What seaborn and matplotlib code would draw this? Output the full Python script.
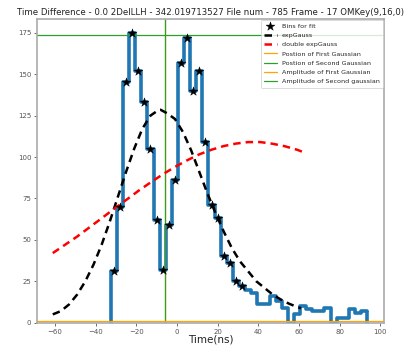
import numpy as np
import pandas as pd
import matplotlib
matplotlib.use("Agg")
import matplotlib.pyplot as plt
import seaborn as sns

# ---------------- data ----------------
title = "Time Difference - 0.0 2DelLLH - 342.019713527 File num - 785 Frame - 17 OMKey(9,16,0)"
xlabel = "Time(ns)"

bin_start = -32.5
bin_width = 3.0
counts = [31, 70, 145, 175, 152, 133, 105, 62, 32, 59, 86, 157, 172, 140, 152, 109,
          71, 63, 40, 36, 25, 22, 20, 18, 11, 11, 16, 13, 9, 0, 5, 10, 8, 7, 7, 9,
          0, 3, 3, 8, 6, 7]
n_fit_bins = 22

expgauss_x = [-61, -57, -53, -49, -45, -41, -37, -33, -29, -25, -21, -17, -13, -9, -8,
              -5, -1, 3, 7, 11, 15, 19, 23, 27, 31, 35, 39, 43, 47, 51, 55, 59, 61]
expgauss_y = [5, 7, 11, 17, 25, 35, 47, 61, 76, 91, 105, 117, 125, 128.4, 128.5,
              126.5, 123, 115, 104, 91, 78, 66, 55, 45, 37, 31, 25, 21, 17, 14, 11.5, 9.5, 8.7]

dexp_x = [-61, -55, -49, -43, -37, -31, -25, -19, -13, -7, -1, 5, 11, 17, 23, 29, 35,
          41, 47, 53, 59, 62]
dexp_y = [42, 47, 52, 57.5, 63, 68.6, 74, 79.5, 84.6, 89.5, 94, 98, 101.6, 104.4,
          106.6, 108.1, 109, 109, 108, 106.5, 104.4, 103]

pos_first = -6.0
pos_second = -6.0
amp_first = 1.0
amp_second = 173.5

xticks = [-60, -40, -20, 0, 20, 40, 60, 80, 100]
yticks = [0, 25, 50, 75, 100, 125, 150, 175]

# ---------------- derived tables ----------------
edges = [bin_start + bin_width * i for i in range(len(counts) + 1)]
centers = [(a + b) / 2 for a, b in zip(edges[:-1], edges[1:])]
hist_df = pd.DataFrame({"t": centers, "n": counts})
fit_df = hist_df.iloc[:n_fit_bins]
eg_df = pd.DataFrame({"t": expgauss_x, "v": expgauss_y})
deg_df = pd.DataFrame({"t": dexp_x, "v": dexp_y})

# ---------------- plot ----------------
sns.set_style("ticks")
plt.rcParams['font.family'] = ['DejaVu Sans']

fig = plt.figure(figsize=(4.05, 3.47), dpi=100)
ax = fig.add_axes([37 / 405, 1 - 323 / 347, (384 - 37) / 405, (323 - 19) / 347])

sns.histplot(data=hist_df, x="t", weights="n", bins=edges, element="step", fill=False,
             color="#1f77b4", linewidth=2.6, ax=ax, zorder=2)
# vertical end edges of the step outline
ax.vlines([edges[0], edges[-1]], 0, [counts[0], counts[-1]], color="#1f77b4",
          linewidth=2.6, zorder=2)

sns.scatterplot(data=fit_df, x="t", y="n", marker="*", s=45, color="black",
                edgecolor="black", linewidth=0.3, ax=ax, zorder=4, label="Bins for fit")
sns.lineplot(data=eg_df, x="t", y="v", color="black", linestyle=(0, (3, 2)),
             linewidth=1.8, ax=ax, zorder=3, label="expGauss")
sns.lineplot(data=deg_df, x="t", y="v", color="red", linestyle=(0, (3, 2)),
             linewidth=1.8, ax=ax, zorder=3, label="double expGauss")

ax.axvline(pos_first, color="orange", linewidth=0.9, label="Postion of First Gaussian")
ax.axvline(pos_second, color="#2ca02c", linewidth=0.9, label="Postion of Second Gaussian")
ax.axhline(amp_first, color="orange", linewidth=0.9, label="Amplitude of First Gaussian")
ax.axhline(amp_second, color="#2ca02c", linewidth=0.9, label="Amplitude of Second gaussian")

ax.set_xlim(-68.75, 101.75)
ax.set_ylim(-0.2, 183.3)
ax.set_xticks(xticks)
ax.set_yticks(yticks)
ax.tick_params(labelsize=5, colors="#555555", length=2.5, width=0.6, pad=1.5)
ax.set_ylabel("")
ax.set_xlabel(xlabel, fontsize=7.5, labelpad=0, color="#222222")
ax.set_title(title, fontsize=6.2, pad=3, color="#222222")
for s in ax.spines.values():
    s.set_color("#aaaaaa")
    s.set_linewidth(1.2)

leg = ax.legend(loc="upper right", fontsize=4.6, frameon=True, borderaxespad=0.15,
                handlelength=2.0, labelspacing=0.6, borderpad=0.5, handletextpad=0.8)
leg.get_frame().set_edgecolor("#cccccc")
leg.get_frame().set_linewidth(0.6)

fig.savefig("out.png", dpi=100)
